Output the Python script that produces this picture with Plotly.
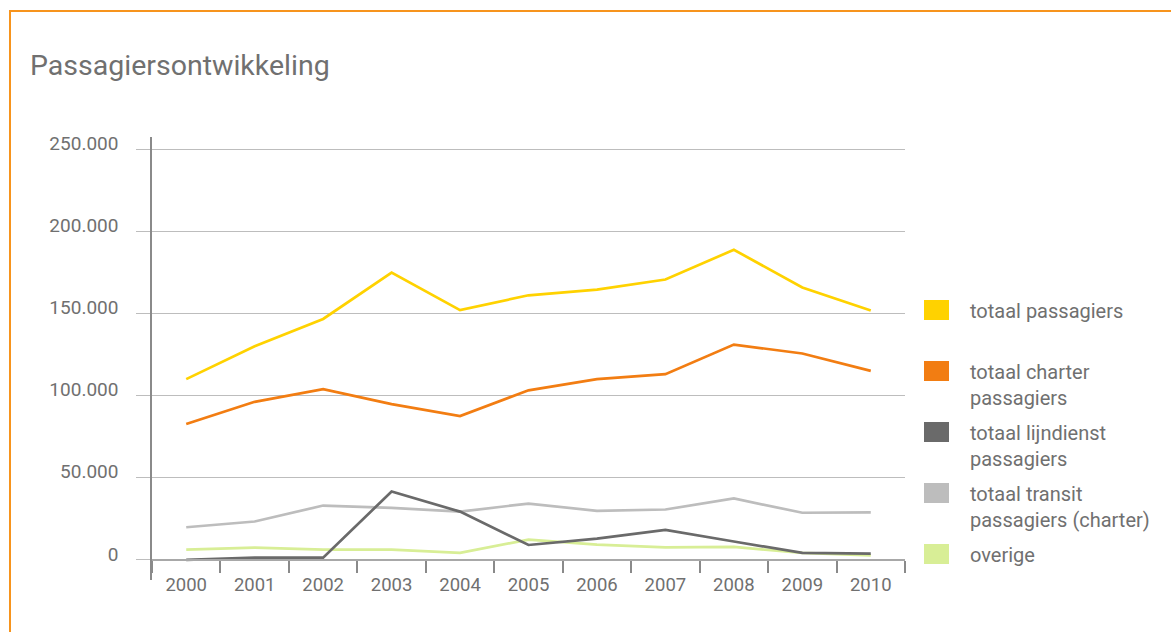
import plotly.graph_objects as go

years = ["2000", "2001", "2002", "2003", "2004", "2005", "2006", "2007", "2008", "2009", "2010"]
totaal = [110000, 130000, 146600, 174800, 152000, 161000, 164500, 170600, 188700, 165800, 151800]
charter = [82700, 96200, 103900, 94800, 87500, 103200, 110000, 113000, 131000, 125600, 115000]
lijndienst = [0, 1400, 1400, 41600, 29400, 9100, 13000, 18300, 11200, 4300, 3800]
transit = [19900, 23400, 33100, 31700, 29400, 34300, 29900, 30700, 37400, 28700, 29000]
overige = [6300, 7500, 6300, 6300, 4300, 12400, 9300, 7700, 7900, 4300, 2800]

names = ["totaal passagiers", "totaal charter<br>passagiers", "totaal lijndienst<br>passagiers",
         "totaal transit<br>passagiers (charter)", "overige"]
colors = ["#FFD200", "#F27D12", "#6A6A6A", "#BDBDBD", "#D8EE96"]
series = [totaal, charter, lijndienst, transit, overige]
yticks = [0, 50000, 100000, 150000, 200000, 250000]

W, H = 1171, 632
L, R, T, B = 152, 905, 137, 580
Y0, Y1 = -12200, 257300

def px(x):
    return (x - L) / (R - L)

def py(y):
    return (B - y) / (B - T)

TXT = "#707070"
FONT = "Roboto"

fig = go.Figure()
# draw order: overige, transit, lijndienst, charter, totaal
for i in [4, 3, 2, 1, 0]:
    fig.add_trace(go.Scatter(x=years, y=series[i], mode="lines", name=names[i].replace("<br>", " "),
                             line=dict(color=colors[i], width=2.7), showlegend=False))

shapes = []
annotations = []
# orange frame
shapes.append(dict(type="rect", xref="paper", yref="paper", x0=px(10), x1=px(1250), y0=py(11), y1=py(700),
                   line=dict(color="#F7941D", width=2), fillcolor="rgba(0,0,0,0)", layer="below"))
# manual legend
centers = [310, 371, 432, 493, 554]
for i, c in enumerate(centers):
    shapes.append(dict(type="rect", xref="paper", yref="paper", x0=px(924), x1=px(949),
                       y0=py(c - 10), y1=py(c + 10), line=dict(width=0), fillcolor=colors[i]))
    annotations.append(dict(xref="paper", yref="paper", x=px(968), y=py(c - 13), xanchor="left", yanchor="top",
                            align="left", text=names[i], showarrow=False,
                            font=dict(family=FONT, size=20, color=TXT)))

fig.update_layout(
    width=W, height=H,
    margin=dict(l=L, r=W - R, t=T, b=H - B, pad=0),
    paper_bgcolor="white", plot_bgcolor="white",
    separators=",.",
    font=dict(family=FONT, color=TXT, size=18),
    title=dict(text="Passagiersontwikkeling", x=30 / W, xanchor="left", xref="container",
               y=1 - 65 / H, yanchor="middle", yref="container",
               font=dict(family=FONT, size=28.5, color=TXT)),
    showlegend=False,
    hovermode=False,
    shapes=shapes,
    annotations=annotations,
    xaxis=dict(type="category", categoryorder="array", categoryarray=years, range=[-0.5, 10.5],
               anchor="free", position=(0 - Y0) / (Y1 - Y0),
               showgrid=False, zeroline=False, showline=True, linecolor="#A8A8A8", linewidth=1.5,
               ticks="outside", tickson="boundaries", ticklen=12, tickcolor="#8A8A8A", tickwidth=1.5,
               ticklabelstandoff=8,
               tickfont=dict(family=FONT, size=18.5, color=TXT)),
    yaxis=dict(range=[Y0, Y1], tickvals=yticks, tickformat=",d",
               showgrid=True, gridcolor="#BDBDBD", gridwidth=1, zeroline=False,
               showline=True, linecolor="#8A8A8A", linewidth=1.5,
               ticks="outside", ticklen=14, tickcolor="#BDBDBD", tickwidth=1,
               ticklabelstandoff=14, ticklabelshift=-6,
               tickfont=dict(family=FONT, size=19, color=TXT)),
)

fig.write_html("out.html", config={"displayModeBar": False},
               post_script="document.body.style.margin='0';")
